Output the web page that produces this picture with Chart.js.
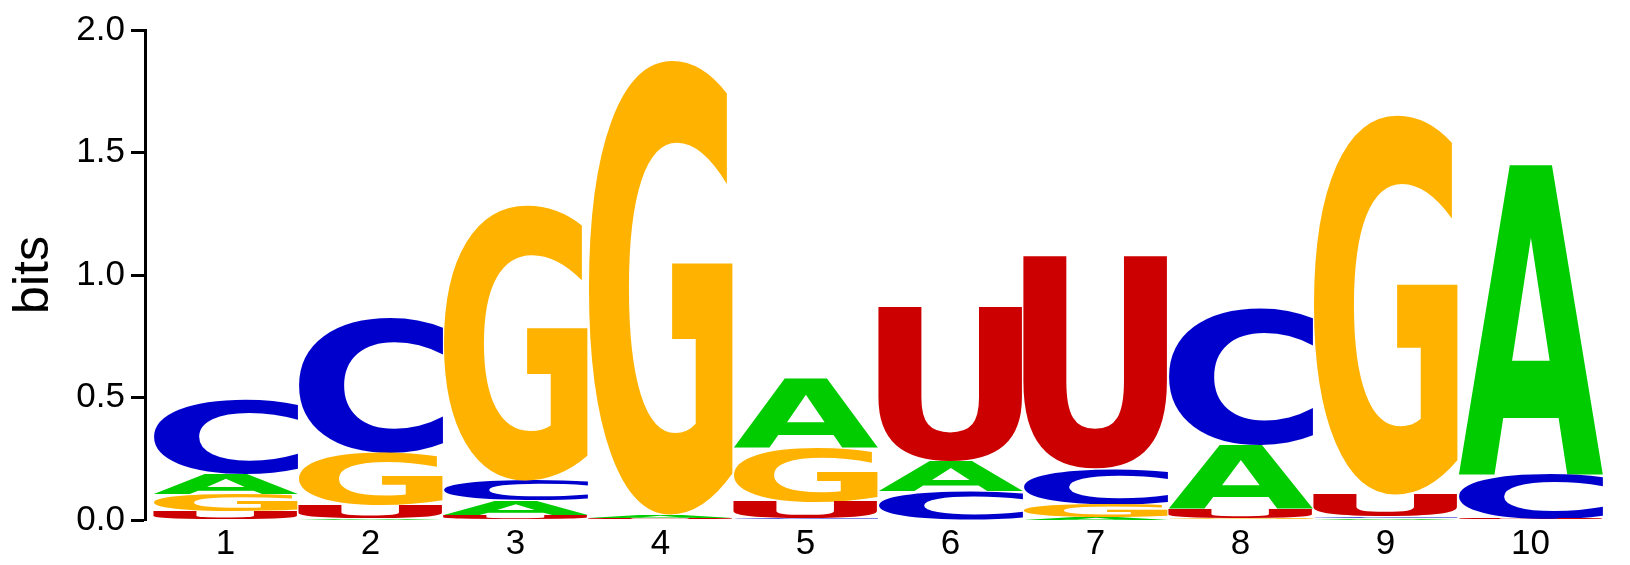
<!DOCTYPE html>
<html>
<head>
<meta charset="utf-8">
<script src="https://cdn.jsdelivr.net/npm/chart.js@4.4.1/dist/chart.umd.min.js"></script>
<style>
  html, body { margin: 0; padding: 0; background: #fff; }
  #wrap { width: 1630px; height: 565px; }
</style>
</head>
<body>
<div id="wrap"><canvas id="logo"></canvas></div>
<script>
// positions along the sequence
const positions = [1, 2, 3, 4, 5, 6, 7, 8, 9, 10];
const letters = ['A', 'C', 'G', 'U'];
const letterColors = { A: '#00cc00', C: '#0000cc', G: '#ffb300', U: '#cc0000' };

// information content (bits) per letter at each position
const heightA = [0.079, 0.005, 0.060, 0.012, 0.282, 0.123, 0.010, 0.262, 0.006, 1.264];
const heightC = [0.303, 0.554, 0.080, 0.003, 0.007, 0.115, 0.146, 0.556, 0.007, 0.181];
const heightG = [0.071, 0.214, 1.127, 1.860, 0.218, 0.003, 0.054, 0.007, 1.554, 0.002];
const heightU = [0.034, 0.056, 0.020, 0.005, 0.068, 0.630, 0.868, 0.037, 0.089, 0.003];

const yTicks = [0, 0.5, 1.0, 1.5, 2.0];

const heights = { A: heightA, C: heightC, G: heightG, U: heightU };

// stack letters per column: smallest at the bottom, tallest on top
const ranges = { A: [], C: [], G: [], U: [] };
positions.forEach((p, i) => {
    const order = letters.slice().sort((a, b) => heights[a][i] - heights[b][i]);
    let base = 0;
    order.forEach(l => {
        ranges[l][i] = { x: p, y: [base, base + heights[l][i]] };
        base += heights[l][i];
    });
});

// draws each bar as a stretched letter glyph
const glyphPlugin = {
    id: 'glyphs',
    afterDatasetsDraw(chart) {
        const ctx = chart.ctx;
        ctx.save();
        ctx.font = 'bold 200px "DejaVu Sans", sans-serif';
        ctx.textAlign = 'left';
        ctx.textBaseline = 'alphabetic';
        chart.data.datasets.forEach((ds, di) => {
            const meta = chart.getDatasetMeta(di);
            const m = ctx.measureText(ds.label);
            const gw = m.actualBoundingBoxLeft + m.actualBoundingBoxRight;
            const gh = m.actualBoundingBoxAscent + m.actualBoundingBoxDescent;
            meta.data.forEach(bar => {
                const p = bar.getProps(['x', 'y', 'base', 'width'], true);
                const top = Math.min(p.y, p.base);
                const h = Math.abs(p.base - p.y);
                if (h < 0.3) return;
                ctx.save();
                ctx.translate(p.x - p.width / 2, top);
                ctx.scale(p.width / gw, h / gh);
                ctx.fillStyle = ds.glyphColor;
                ctx.fillText(ds.label, m.actualBoundingBoxLeft, m.actualBoundingBoxAscent);
                ctx.restore();
            });
        });
        ctx.restore();
    }
};

function initLogo() {
    const ctx = document.getElementById('logo').getContext('2d');
    new Chart(ctx, {
        type: 'bar',
        data: {
            datasets: letters.map(l => ({
                label: l,
                data: ranges[l],
                glyphColor: letterColors[l],
                backgroundColor: 'rgba(0,0,0,0)',
                borderWidth: 0,
                grouped: false,
                barPercentage: 1,
                categoryPercentage: 1
            }))
        },
        options: {
            responsive: true,
            maintainAspectRatio: false,
            animation: false,
            layout: { padding: { top: 30, right: 27, bottom: 0, left: 0 } },
            plugins: {
                legend: { display: false },
                tooltip: { enabled: false }
            },
            scales: {
                x: {
                    type: 'linear',
                    offset: false,
                    min: 0.445,
                    max: 10.5,
                    afterBuildTicks: scale => {
                        scale.ticks = positions.map(v => ({ value: v }));
                    },
                    afterFit: scale => { scale.height = 45; },
                    grid: { display: false, drawTicks: false },
                    border: { display: false },
                    ticks: {
                        padding: 3,
                        color: '#000',
                        maxRotation: 0,
                        font: { family: '"Liberation Sans", Arial, sans-serif', size: 35 },
                        callback: v => String(v)
                    }
                },
                y: {
                    min: 0,
                    max: 2,
                    afterBuildTicks: scale => {
                        scale.ticks = yTicks.map(v => ({ value: v }));
                    },
                    afterFit: scale => { scale.width = 145; },
                    grid: {
                        display: true,
                        drawOnChartArea: false,
                        drawTicks: true,
                        tickLength: 14,
                        tickWidth: 3,
                        tickColor: '#000'
                    },
                    border: { display: true, color: '#000', width: 3 },
                    ticks: {
                        padding: 6,
                        color: '#000',
                        font: { family: '"Liberation Sans", Arial, sans-serif', size: 35 },
                        callback: v => v.toFixed(1)
                    },
                    title: {
                        display: true,
                        text: 'bits',
                        color: '#000',
                        padding: { top: 4, bottom: 0 },
                        font: { family: '"Liberation Sans", Arial, sans-serif', size: 50 }
                    }
                }
            }
        },
        plugins: [glyphPlugin]
    });
}

document.addEventListener('DOMContentLoaded', () => {
    initLogo();
});
</script>
</body>
</html>
